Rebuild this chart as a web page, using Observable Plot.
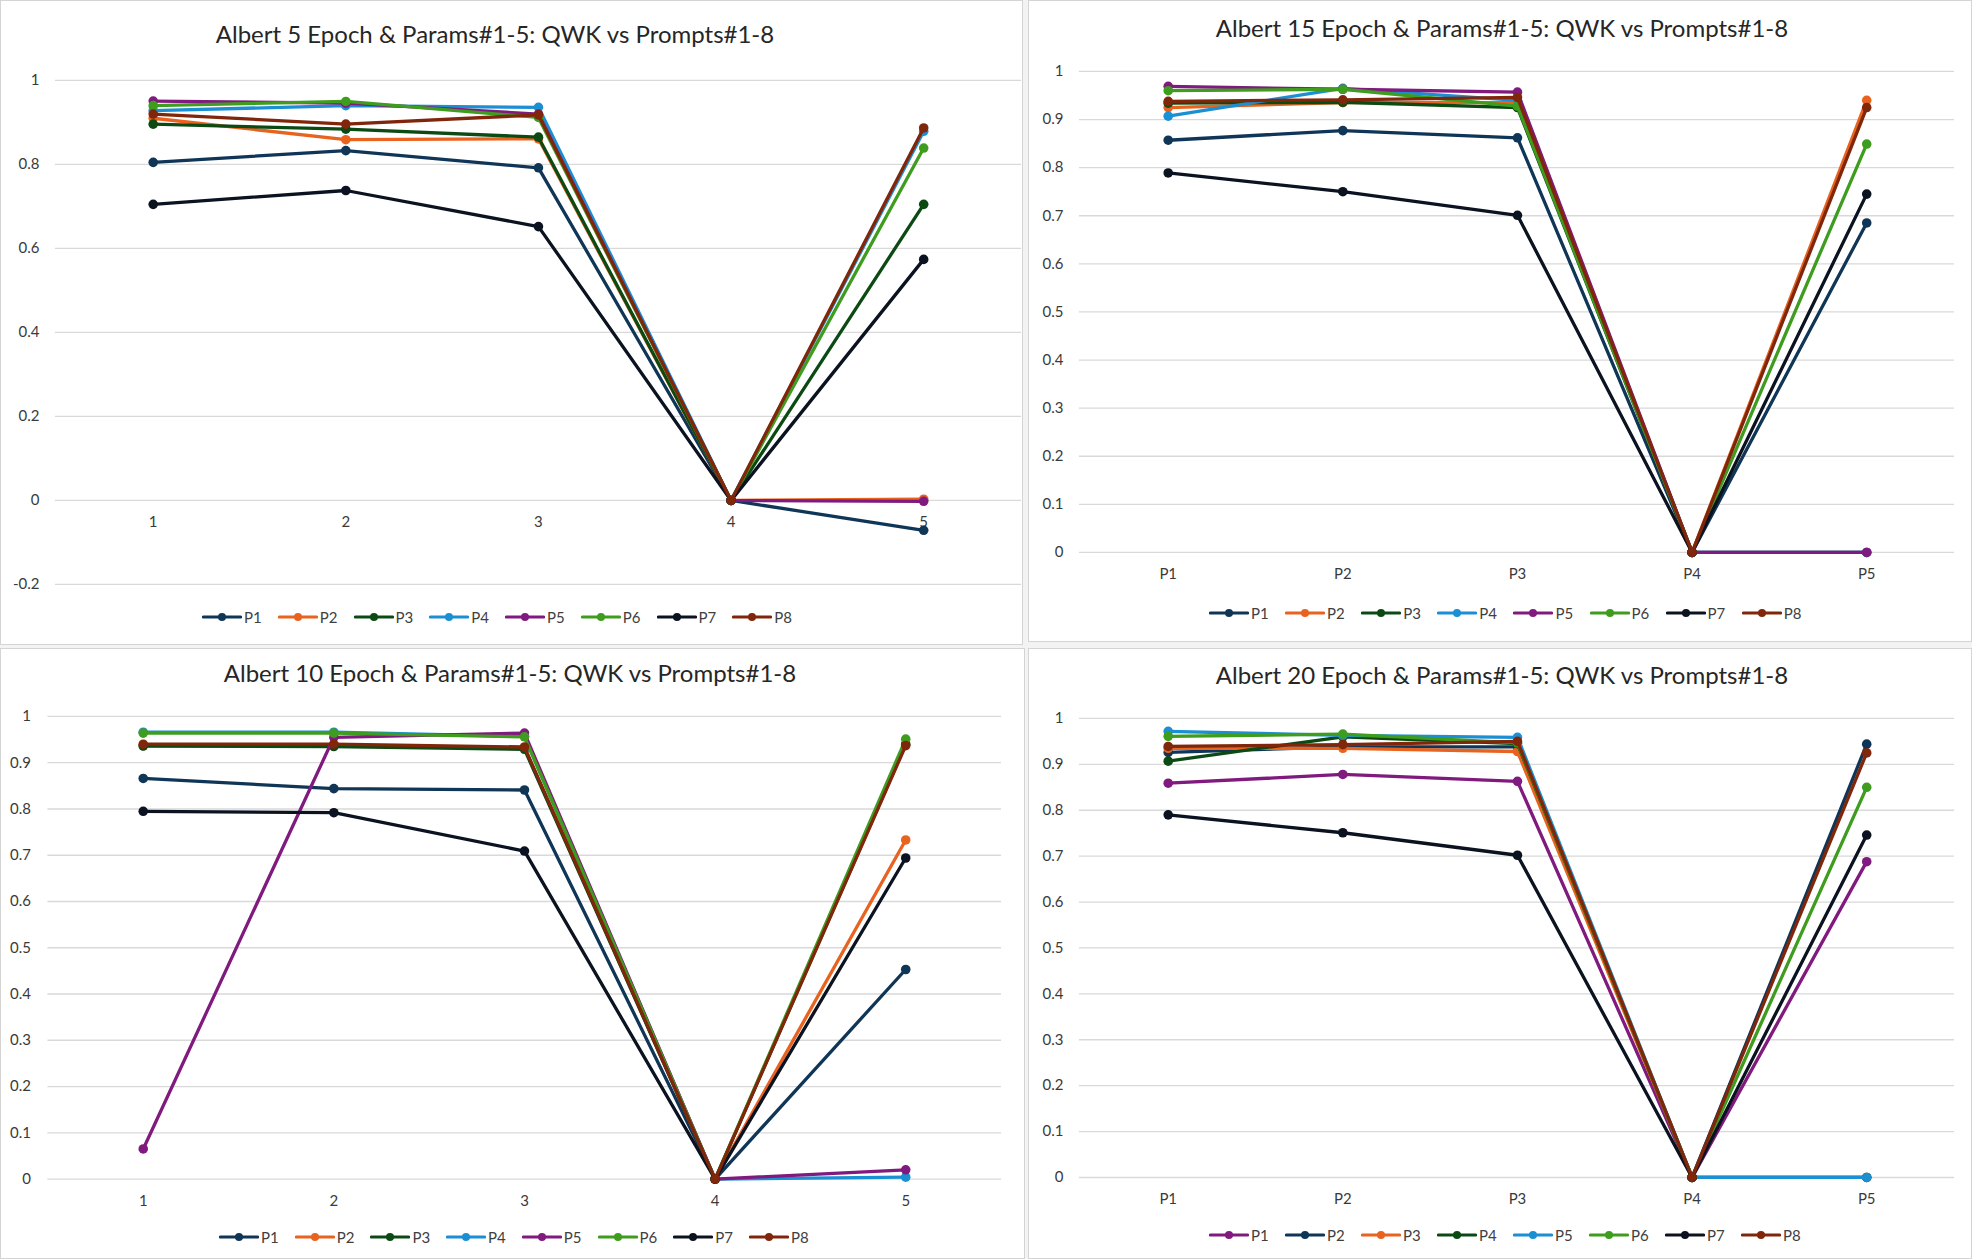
<!DOCTYPE html>
<html>
<head>
<meta charset="utf-8">
<script src="https://cdn.jsdelivr.net/npm/d3@7"></script>
<script src="https://cdn.jsdelivr.net/npm/@observablehq/plot@0.6"></script>
<style>
  html, body { margin: 0; padding: 0; background: #ffffff; }
  #root { position: relative; width: 1972px; height: 1259px; overflow: hidden; background: #f3f3f3; }
  .panel { position: absolute; background: #ffffff; border: 1px solid #d4d4d4; box-sizing: border-box; overflow: hidden; }
  .title { position: absolute; text-align: center; font-family: Lato, "Open Sans", sans-serif; font-size: 24px; color: #262626; white-space: nowrap; line-height: 30px; }
  .legend-item { position: absolute; display: flex; align-items: center; font-family: Lato, "Liberation Sans", sans-serif; font-size: 15px; color: #404040; line-height: 18px; white-space: nowrap; }
  .legend-item svg { margin-right: 2px; }
  .plotwrap { position: absolute; }
  .plotwrap svg { overflow: visible; }
</style>
</head>
<body>
<div id="root"></div>
<script>
// ---------- data ----------
const seriesNames = ["P1", "P2", "P3", "P4", "P5", "P6", "P7", "P8"];
const numericPrompts = ["1", "2", "3", "4", "5"];
const namedPrompts = ["P1", "P2", "P3", "P4", "P5"];

const ticksWithNegative = [-0.2, 0, 0.2, 0.4, 0.6, 0.8, 1];
const ticksTenths = [0, 0.1, 0.2, 0.3, 0.4, 0.5, 0.6, 0.7, 0.8, 0.9, 1];

// Albert 5 Epoch: rows P1..P8, columns prompt 1..5
const epoch5Values = [
  [0.805, 0.833, 0.792, 0, -0.071],
  [0.910, 0.859, 0.861, 0, 0.003],
  [0.896, 0.884, 0.865, 0, 0.705],
  [0.928, 0.940, 0.936, 0, 0.879],
  [0.951, 0.946, 0.920, 0, -0.002],
  [0.940, 0.950, 0.912, 0, 0.839],
  [0.705, 0.738, 0.652, 0, 0.574],
  [0.920, 0.896, 0.918, 0, 0.887]
];

// Albert 15 Epoch
const epoch15Values = [
  [0.857, 0.877, 0.862, 0, 0.685],
  [0.925, 0.935, 0.935, 0, 0.940],
  [0.934, 0.936, 0.925, 0, 0],
  [0.907, 0.965, 0.940, 0, 0],
  [0.969, 0.963, 0.957, 0, 0],
  [0.960, 0.963, 0.928, 0, 0.849],
  [0.789, 0.750, 0.701, 0, 0.745],
  [0.938, 0.941, 0.946, 0, 0.925]
];

// Albert 10 Epoch
const epoch10Values = [
  [0.866, 0.844, 0.841, 0, 0.453],
  [0.937, 0.937, 0.932, 0, 0.733],
  [0.936, 0.935, 0.929, 0, 0.940],
  [0.966, 0.966, 0.957, 0, 0.004],
  [0.065, 0.955, 0.964, 0, 0.020],
  [0.964, 0.964, 0.956, 0, 0.951],
  [0.795, 0.792, 0.709, 0, 0.694],
  [0.940, 0.940, 0.934, 0, 0.937]
];

// Albert 20 Epoch
const epoch20Values = [
  [0.859, 0.878, 0.863, 0, 0.688],
  [0.926, 0.938, 0.938, 0, 0.944],
  [0.935, 0.935, 0.928, 0, 0],
  [0.907, 0.960, 0.945, 0, 0],
  [0.972, 0.963, 0.959, 0, 0],
  [0.961, 0.966, 0.947, 0, 0.850],
  [0.790, 0.751, 0.702, 0, 0.746],
  [0.939, 0.943, 0.950, 0, 0.925]
];

// series colours
const paletteA = ["#0f3557", "#e8631f", "#0c4a14", "#1b8fd3", "#801a7e", "#3e9c1f", "#0b1220", "#80260a"];
const paletteB = ["#801a7e", "#0f3557", "#e8631f", "#0c4a14", "#1b8fd3", "#3e9c1f", "#0b1220", "#80260a"];

// ---------- layout (pixel geometry only) ----------
const panels = [
  { title: "Albert 5 Epoch & Params#1-5: QWK vs Prompts#1-8",
    box: [0, 0, 1023, 645], plot: [54, 79, 1022, 584],
    yDomain: [-0.2, 1], yTicks: ticksWithNegative, x: numericPrompts, values: epoch5Values, colors: paletteA,
    titleCenter: [494, 33], legend: [201, 616, 75.75], tickPad: 16 },
  { title: "Albert 15 Epoch & Params#1-5: QWK vs Prompts#1-8",
    box: [1028, 0, 944, 642], plot: [1078, 70, 1955, 552],
    yDomain: [0, 1], yTicks: ticksTenths, x: namedPrompts, values: epoch15Values, colors: paletteA,
    titleCenter: [1501, 27], legend: [1208, 612, 76.1], tickPad: 16 },
  { title: "Albert 10 Epoch & Params#1-5: QWK vs Prompts#1-8",
    box: [0, 648, 1025, 611], plot: [46.5, 714.5, 1002, 1178],
    yDomain: [0, 1], yTicks: ticksTenths, x: numericPrompts, values: epoch10Values, colors: paletteA,
    titleCenter: [509, 672], legend: [218, 1236, 75.7], tickPad: 17 },
  { title: "Albert 20 Epoch & Params#1-5: QWK vs Prompts#1-8",
    box: [1028, 648, 944, 611], plot: [1078, 717, 1955, 1177],
    yDomain: [0, 1], yTicks: ticksTenths, x: namedPrompts, values: epoch20Values, colors: paletteB,
    titleCenter: [1501, 674], legend: [1208, 1234, 76], tickPad: 16 }
];

const root = document.getElementById("root");

panels.forEach(p => {
  const [bx, by, bw, bh] = p.box;
  const [px0, py0, px1, py1] = p.plot;
  const panel = document.createElement("div");
  panel.className = "panel";
  Object.assign(panel.style, { left: bx + "px", top: by + "px", width: bw + "px", height: bh + "px" });
  root.appendChild(panel);

  // title
  const t = document.createElement("div");
  t.className = "title";
  t.textContent = p.title;
  Object.assign(t.style, { left: (p.titleCenter[0] - bx - 450) + "px", width: "900px", top: (p.titleCenter[1] - by - 15) + "px" });
  panel.appendChild(t);

  // plot svg
  const svgTop = py0 - 20;
  const svgBottom = py1 + 34;
  const H = svgBottom - svgTop;
  const W = bw;
  const marks = [
    Plot.gridY(p.yTicks, { stroke: "#d9d9d9", strokeOpacity: 1, strokeWidth: 1.3 }),
    Plot.axisY(p.yTicks, { tickSize: 0, tickPadding: p.tickPad, tickFormat: d => String(d), label: null, fontSize: 15, fill: "#3a3a3a" }),
    Plot.text(p.x, { x: d => d, y: 0, dy: 22, text: d => d, fontSize: 15, fill: "#3a3a3a" })
  ];
  p.values.forEach((vals, i) => {
    const data = vals.map((v, j) => ({ prompt: p.x[j], qwk: v }));
    marks.push(Plot.line(data, { x: "prompt", y: "qwk", stroke: p.colors[i], strokeWidth: 3.3, strokeLinejoin: "round", strokeLinecap: "round" }));
    marks.push(Plot.dot(data, { x: "prompt", y: "qwk", r: 4.8, fill: p.colors[i], stroke: null }));
  });
  const chart = Plot.plot({
    width: W, height: H,
    marginTop: py0 - svgTop, marginBottom: svgBottom - py1,
    marginLeft: px0 - bx, marginRight: bx + bw - px1,
    x: { type: "point", domain: p.x, padding: 0.5, axis: null },
    y: { domain: p.yDomain, axis: null },
    style: { fontFamily: "Lato, 'Liberation Sans', sans-serif", background: "transparent", overflow: "visible" },
    marks
  });
  const wrap = document.createElement("div");
  wrap.className = "plotwrap";
  Object.assign(wrap.style, { left: "0px", top: (svgTop - by) + "px" });
  wrap.appendChild(chart);
  panel.appendChild(wrap);

  // legend
  const [lx, ly, step] = p.legend;
  seriesNames.forEach((name, i) => {
    const item = document.createElement("div");
    item.className = "legend-item";
    Object.assign(item.style, { left: (lx + i * step - bx) + "px", top: (ly - by - 9) + "px" });
    const c = p.colors[i];
    item.innerHTML = `<svg width="40" height="12"><line x1="1.5" y1="6" x2="38.5" y2="6" stroke="${c}" stroke-width="3.2" stroke-linecap="round"/><circle cx="20" cy="6" r="4" fill="${c}"/></svg><span>${name}</span>`;
    panel.appendChild(item);
  });
});
</script>
</body>
</html>
